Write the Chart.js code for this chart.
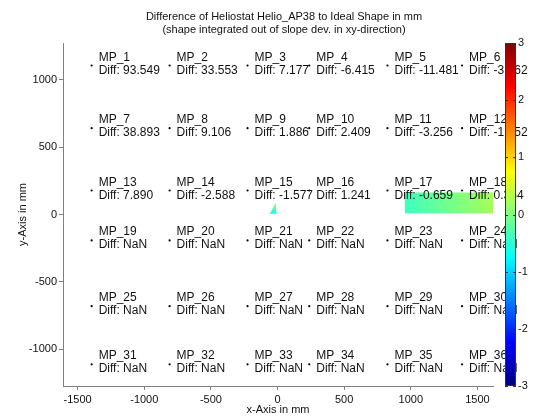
<!DOCTYPE html>
<html>
<head>
<meta charset="utf-8">
<script src="https://cdn.jsdelivr.net/npm/chart.js@4/dist/chart.umd.min.js"></script>
<style>
  html, body { margin: 0; padding: 0; background: #fff; }
  canvas { display: block; }
</style>
</head>
<body>
<canvas id="c" width="536" height="417"></canvas>
<script>
const colX = [-1395, -810, -225, 238, 825, 1385];
const rowY = [1105, 640, 178, -192, -680, -1111];
// Diff per MP, row by row (MP_1 .. MP_36)
const mpDiff = [
  93.549, 33.553, 7.177, -6.415, -11.481, -3.562,
  38.893, 9.106, 1.886, 2.409, -3.256, -1.652,
  7.890, -2.588, -1.577, 1.241, -0.659, 0.354,
  NaN, NaN, NaN, NaN, NaN, NaN,
  NaN, NaN, NaN, NaN, NaN, NaN,
  NaN, NaN, NaN, NaN, NaN, NaN
];
const xTicks = [-1500, -1000, -500, 0, 500, 1000, 1500];
const yTicks = [-1000, -500, 0, 500, 1000];
const cbTicks = [-3, -2, -1, 0, 1, 2, 3];
const cbMin = -3, cbMax = 3;

// integrated shape patches (corner x, y in mm and value in mm)
const patchA_X = [955, 1620, 1620, 955];
const patchA_Y = [10, 10, 163, 163];
const patchA_V = [-0.4, 0.2, 0.25, -0.05];
const patchB_X = [-57, -8, -13];
const patchB_Y = [5, 5, 91];
const patchB_V = [-0.9, -0.3, 0.4];
const patches = [[patchA_X, patchA_Y, patchA_V], [patchB_X, patchB_Y, patchB_V]];

const titleLines = [
  'Difference of Heliostat Helio_AP38 to Ideal Shape in mm',
  '(shape integrated out of slope dev. in xy-direction)'
];

const FONT = '"Liberation Sans", Arial, sans-serif';
const TXT = '#111';
const AX = '#808080';

function jet(v) {
  let t = (v - cbMin) / (cbMax - cbMin);
  t = Math.max(0, Math.min(1, t));
  const c = k => Math.round(255 * Math.max(0, Math.min(1, 1.5 - Math.abs(4 * t - k))));
  return 'rgb(' + c(3) + ',' + c(2) + ',' + c(1) + ')';
}

const points = [];
rowY.forEach(yv => colX.forEach(xv => points.push({ x: xv, y: yv })));

const shapePlugin = {
  id: 'shape',
  beforeDatasetsDraw(chart) {
    const { ctx, chartArea: a, scales: { x, y } } = chart;
    ctx.save();
    ctx.beginPath();
    ctx.rect(a.left, a.top, a.right - a.left, a.bottom - a.top);
    ctx.clip();
    patches.forEach(([px, py, pv]) => {
      const xs = px.map(v => x.getPixelForValue(v));
      const ys = py.map(v => y.getPixelForValue(v));
      let lo = 0, hi = 0;
      pv.forEach((v, i) => { if (v < pv[lo]) lo = i; if (v > pv[hi]) hi = i; });
      const g = ctx.createLinearGradient(xs[lo], ys[lo], xs[hi], ys[hi]);
      for (let s = 0; s <= 10; s++) {
        g.addColorStop(s / 10, jet(pv[lo] + (pv[hi] - pv[lo]) * s / 10));
      }
      ctx.beginPath();
      xs.forEach((xx, i) => i ? ctx.lineTo(xx, ys[i]) : ctx.moveTo(xx, ys[i]));
      ctx.closePath();
      ctx.fillStyle = g;
      ctx.fill();
    });
    ctx.restore();
  },
  afterDatasetsDraw(chart) {
    const { ctx, scales: { x, y } } = chart;
    ctx.save();
    ctx.font = '12px ' + FONT;
    ctx.fillStyle = TXT;
    ctx.textAlign = 'left';
    ctx.textBaseline = 'alphabetic';
    points.forEach((p, i) => {
      const px = x.getPixelForValue(p.x);
      const py = y.getPixelForValue(p.y);
      const d = isNaN(mpDiff[i]) ? 'NaN' : mpDiff[i].toFixed(3);
      ctx.fillText('MP_' + (i + 1), px + 7, py - 5);
      ctx.fillText('Diff: ' + d, px + 7, py + 8);
    });
    ctx.restore();
  },
  afterDraw(chart) {
    const { ctx, chartArea: a } = chart;
    ctx.save();
    // title
    ctx.font = '11px ' + FONT;
    ctx.fillStyle = TXT;
    ctx.textAlign = 'center';
    ctx.textBaseline = 'middle';
    const cx = (a.left + a.right) / 2 + 6;
    ctx.fillText(titleLines[0], cx, 17);
    ctx.fillText(titleLines[1], cx, 30);
    // colorbar
    const x0 = 505, w = 11, top = a.top, bot = a.bottom;
    const g = ctx.createLinearGradient(0, bot, 0, top);
    for (let s = 0; s <= 64; s++) g.addColorStop(s / 64, jet(cbMin + (cbMax - cbMin) * s / 64));
    ctx.fillStyle = g;
    ctx.fillRect(x0, top, w, bot - top);
    ctx.strokeStyle = '#333';
    ctx.lineWidth = 1;
    ctx.strokeRect(x0 + 0.5, top + 0.5, w - 1, bot - top - 1);
    ctx.fillStyle = TXT;
    ctx.textAlign = 'left';
    ctx.font = '11px ' + FONT;
    cbTicks.forEach(v => {
      const yy = bot - (v - cbMin) / (cbMax - cbMin) * (bot - top);
      ctx.beginPath();
      ctx.moveTo(x0 + w - 3, Math.round(yy) + 0.5);
      ctx.lineTo(x0 + w, Math.round(yy) + 0.5);
      ctx.moveTo(x0, Math.round(yy) + 0.5);
      ctx.lineTo(x0 + 3, Math.round(yy) + 0.5);
      ctx.stroke();
      ctx.fillText(String(v), x0 + w + 2, yy);
    });
    ctx.restore();
  }
};

const axisCommon = {
  type: 'linear',
  border: { display: true, color: AX, width: 1 },
  grid: { display: true, drawOnChartArea: false, drawTicks: true, tickLength: 4, color: AX },
  ticks: { color: TXT, font: { family: FONT, size: 11 }, padding: 2, callback: v => String(v) }
};

new Chart(document.getElementById('c'), {
  type: 'scatter',
  data: {
    datasets: [{
      data: points,
      pointRadius: 1.1,
      pointBackgroundColor: '#000',
      pointBorderWidth: 0
    }]
  },
  options: {
    responsive: false,
    animation: false,
    devicePixelRatio: 1,
    layout: { padding: { left: 0, top: 43, right: 43, bottom: 0 } },
    plugins: { legend: { display: false }, tooltip: { enabled: false } },
    scales: {
      x: Object.assign({}, axisCommon, {
        position: 'bottom',
        min: -1610, max: 1617,
        ticks: Object.assign({}, axisCommon.ticks, { padding: 3 }),
        afterBuildTicks: s => { s.ticks = xTicks.map(v => ({ value: v })); },
        afterFit: s => { s.height = 31; },
        title: { display: true, text: 'x-Axis in mm', color: TXT, font: { family: FONT, size: 11 }, padding: { top: 0, bottom: 0 } }
      }),
      y: Object.assign({}, axisCommon, {
        position: 'left',
        min: -1272, max: 1272,
        afterBuildTicks: s => { s.ticks = yTicks.map(v => ({ value: v })); },
        afterFit: s => { s.width = 63; },
        title: { display: true, text: 'y-Axis in mm', color: TXT, font: { family: FONT, size: 11 }, padding: { top: 16, bottom: 0 } }
      })
    }
  },
  plugins: [shapePlugin]
});
</script>
</body>
</html>
